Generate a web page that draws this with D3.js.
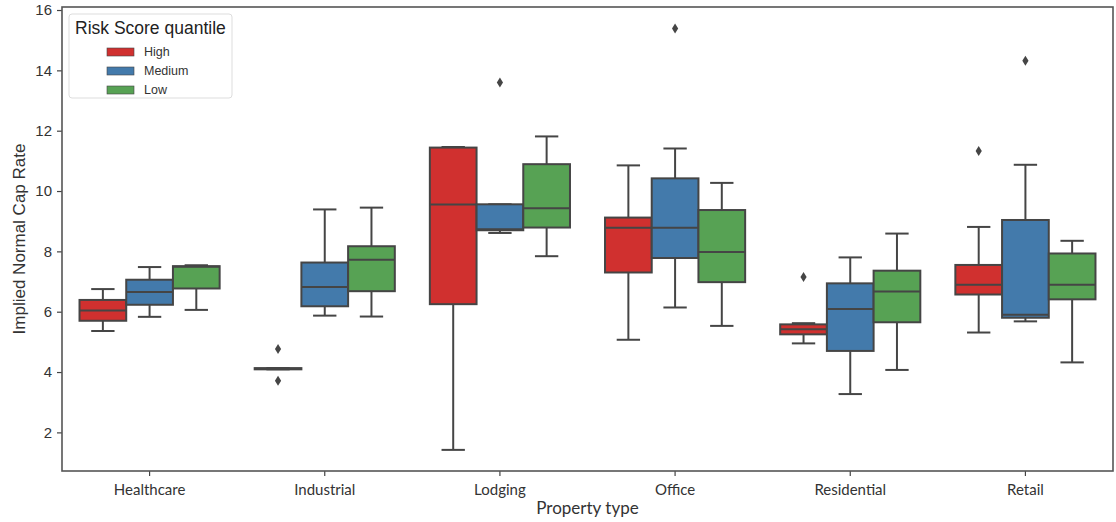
<!DOCTYPE html>
<html>
<head>
<meta charset="utf-8">
<script src="https://cdn.jsdelivr.net/npm/d3@7"></script>
<style>
  html, body { margin: 0; padding: 0; background: #fff; }
  svg { display: block; }
</style>
</head>
<body>
<svg id="chart" width="1116" height="522"></svg>
<script>
// property types on x, risk quantiles as hue
const categories = ['Healthcare', 'Industrial', 'Lodging', 'Office', 'Residential', 'Retail'];
const hues = ['High', 'Medium', 'Low'];

// [whisker low, q1, median, q3, whisker high] per category
const highStats = [
  [5.36, 5.70, 6.04, 6.39, 6.75],
  [4.09, 4.09, 4.11, 4.13, 4.13],
  [1.42, 6.25, 9.55, 11.44, 11.46],
  [5.07, 7.30, 8.78, 9.12, 10.85],
  [4.95, 5.25, 5.42, 5.58, 5.62],
  [5.31, 6.57, 6.89, 7.55, 8.81],
];
const mediumStats = [
  [5.83, 6.23, 6.65, 7.06, 7.48],
  [5.87, 6.18, 6.82, 7.63, 9.39],
  [8.61, 8.70, 8.73, 9.56, 9.56],
  [6.14, 7.78, 8.78, 10.42, 11.41],
  [3.27, 4.70, 6.09, 6.94, 7.80],
  [5.68, 5.80, 5.90, 9.04, 10.87],
];
const lowStats = [
  [6.06, 6.77, 7.49, 7.51, 7.54],
  [5.84, 6.68, 7.72, 8.17, 9.45],
  [7.84, 8.79, 9.43, 10.89, 11.81],
  [5.53, 6.98, 7.98, 9.37, 10.27],
  [4.07, 5.65, 6.67, 7.36, 8.59],
  [4.32, 6.41, 6.89, 7.93, 8.35],
];

// outliers: [category, hue, value]
const outliers = [
  ['Industrial', 'High', 4.76],
  ['Industrial', 'High', 3.71],
  ['Lodging', 'Medium', 13.60],
  ['Office', 'Medium', 15.39],
  ['Residential', 'High', 7.15],
  ['Retail', 'High', 11.33],
  ['Retail', 'Medium', 14.32],
];

const yTicks = [2, 4, 6, 8, 10, 12, 14, 16];

const COLORS = { High: '#d0302f', Medium: '#437aab', Low: '#57a254' };
const EDGE = '#454545';
const LW = 2;

const W = 1116, H = 522;
const margin = { left: 62, right: 3, top: 7, bottom: 51 };

const svg = d3.select('#chart');

const x = d3.scaleBand()
  .domain(categories)
  .range([margin.left, W - margin.right])
  .padding(0);

const y = d3.scaleLinear()
  .domain([0.72, 16.1])
  .range([H - margin.bottom, margin.top]);

const hueScale = d3.scaleBand()
  .domain(hues)
  .range([-0.4 * x.bandwidth(), 0.4 * x.bandwidth()])
  .padding(0);

const rows = [];
const statsByHue = { High: highStats, Medium: mediumStats, Low: lowStats };
hues.forEach(h => {
  categories.forEach((c, i) => {
    const s = statsByHue[h][i];
    rows.push({ cat: c, hue: h, lo: s[0], q1: s[1], med: s[2], q3: s[3], hi: s[4] });
  });
});

// axes
const yAxis = svg.append('g')
  .attr('transform', `translate(${margin.left},0)`)
  .call(d3.axisLeft(y).tickValues(yTicks).tickSize(5).tickPadding(5));
yAxis.select('.domain').remove();
yAxis.selectAll('line').attr('stroke', '#444').attr('stroke-width', 1.2);
yAxis.selectAll('text')
  .attr('fill', '#333')
  .style('font-family', '"Liberation Sans", Arial, sans-serif')
  .style('font-size', '15px');

const xAxis = svg.append('g')
  .attr('transform', `translate(0,${H - margin.bottom})`)
  .call(d3.axisBottom(x).tickSize(5).tickPadding(5));
xAxis.select('.domain').remove();
xAxis.selectAll('line').attr('stroke', '#444').attr('stroke-width', 1.2);
xAxis.selectAll('text')
  .attr('fill', '#333')
  .attr('dy', '0.95em')
  .style('font-family', 'Lato, "Open Sans", sans-serif')
  .style('font-size', '15px');

// boxes
const bw = hueScale.bandwidth();
const gBoxes = svg.append('g');
const box = gBoxes.selectAll('g.box').data(rows).join('g')
  .attr('class', 'box')
  .attr('transform', d => `translate(${x(d.cat) + x.bandwidth() / 2 + hueScale(d.hue)},0)`);

// whiskers
box.append('line')
  .attr('x1', bw / 2).attr('x2', bw / 2)
  .attr('y1', d => y(d.q3)).attr('y2', d => y(d.hi))
  .attr('stroke', EDGE).attr('stroke-width', LW);
box.append('line')
  .attr('x1', bw / 2).attr('x2', bw / 2)
  .attr('y1', d => y(d.q1)).attr('y2', d => y(d.lo))
  .attr('stroke', EDGE).attr('stroke-width', LW);
// caps
box.append('line')
  .attr('x1', bw / 4).attr('x2', bw * 3 / 4)
  .attr('y1', d => y(d.hi)).attr('y2', d => y(d.hi))
  .attr('stroke', EDGE).attr('stroke-width', LW);
box.append('line')
  .attr('x1', bw / 4).attr('x2', bw * 3 / 4)
  .attr('y1', d => y(d.lo)).attr('y2', d => y(d.lo))
  .attr('stroke', EDGE).attr('stroke-width', LW);
// box body
box.append('rect')
  .attr('x', 0)
  .attr('width', bw)
  .attr('y', d => y(d.q3))
  .attr('height', d => Math.max(y(d.q1) - y(d.q3), 0.5))
  .attr('fill', d => COLORS[d.hue])
  .attr('stroke', EDGE).attr('stroke-width', LW);
// median
box.append('line')
  .attr('x1', 0).attr('x2', bw)
  .attr('y1', d => y(d.med)).attr('y2', d => y(d.med))
  .attr('stroke', EDGE).attr('stroke-width', LW);

// outlier markers (thin diamonds)
const thinDiamond = {
  draw(ctx, size) {
    const h = Math.sqrt(size);
    const w = h * 0.62;
    ctx.moveTo(0, -h / 2);
    ctx.lineTo(w / 2, 0);
    ctx.lineTo(0, h / 2);
    ctx.lineTo(-w / 2, 0);
    ctx.closePath();
  }
};
svg.append('g').selectAll('path').data(outliers).join('path')
  .attr('d', d3.symbol().type(thinDiamond).size(100))
  .attr('transform', d => `translate(${x(d[0]) + x.bandwidth() / 2 + hueScale(d[1]) + bw / 2},${y(d[2])})`)
  .attr('fill', EDGE);

// frame
svg.append('rect')
  .attr('x', margin.left).attr('y', margin.top)
  .attr('width', W - margin.left - margin.right)
  .attr('height', H - margin.top - margin.bottom)
  .attr('fill', 'none')
  .attr('stroke', '#555').attr('stroke-width', 1.6);

// axis titles
svg.append('text')
  .attr('transform', `translate(19,${(margin.top + H - margin.bottom) / 2}) rotate(-90)`)
  .attr('text-anchor', 'middle')
  .attr('dy', '0.35em')
  .attr('fill', '#333')
  .style('font-family', '"Liberation Sans", Arial, sans-serif')
  .style('font-size', '17px')
  .text('Implied Normal Cap Rate');

svg.append('text')
  .attr('x', (margin.left + W - margin.right) / 2)
  .attr('y', 514)
  .attr('text-anchor', 'middle')
  .attr('fill', '#333')
  .style('font-family', 'Lato, "Open Sans", sans-serif')
  .style('font-size', '17px')
  .text('Property type');

// legend
const lg = svg.append('g').attr('transform', 'translate(69,14)');
lg.append('rect')
  .attr('width', 163).attr('height', 84)
  .attr('rx', 3)
  .attr('fill', '#fff')
  .attr('stroke', '#ddd').attr('stroke-width', 1);
lg.append('text')
  .attr('x', 6).attr('y', 20)
  .attr('fill', '#222')
  .style('font-family', '"Liberation Sans", Arial, sans-serif')
  .style('font-size', '17.5px')
  .text('Risk Score quantile');
const item = lg.selectAll('g.item').data(hues).join('g')
  .attr('class', 'item')
  .attr('transform', (d, i) => `translate(38,${34 + i * 19})`);
item.append('rect')
  .attr('width', 27).attr('height', 8)
  .attr('fill', d => COLORS[d])
  .attr('stroke', EDGE).attr('stroke-width', 0.6);
item.append('text')
  .attr('x', 37).attr('y', 4)
  .attr('dy', '0.35em')
  .attr('fill', '#333')
  .style('font-family', '"Liberation Sans", Arial, sans-serif')
  .style('font-size', '12.5px')
  .text(d => d);
</script>
</body>
</html>
